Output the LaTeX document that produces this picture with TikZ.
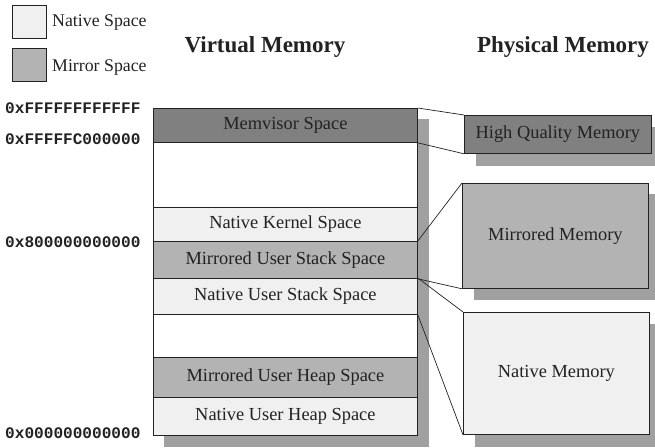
\documentclass[tikz,border=0pt]{standalone}
\usepackage{fontspec}
\setmainfont{Liberation Serif}
\setmonofont{Liberation Mono}
\usetikzlibrary{backgrounds,calc}
\definecolor{nativec}{HTML}{F0F0F0}
\definecolor{mirrorc}{HTML}{B3B3B3}
\definecolor{darkc}{HTML}{808080}
\definecolor{shadowc}{HTML}{A0A0A0}
\definecolor{linec}{HTML}{222222}
\definecolor{textc}{HTML}{222222}
\tikzset{
  box/.style={draw=linec, line width=0.8pt, rectangle, anchor=north west, inner sep=0pt,
    text=textc, font=\fontsize{18.4}{20}\selectfont},
  rowbox/.style={box, minimum width=264pt},
  native/.style={fill=nativec},
  mirror/.style={fill=mirrorc},
  darkbox/.style={fill=darkc},
  empty/.style={fill=white},
  addr/.style={anchor=west, inner sep=0pt, text=textc, font=\ttfamily\bfseries\fontsize{16.1}{17}\selectfont},
  title/.style={inner sep=0pt, text=textc, font=\bfseries\fontsize{23}{25}\selectfont},
  legtext/.style={anchor=west, inner sep=0pt, text=textc, font=\fontsize{17.8}{19}\selectfont},
  conn/.style={draw=linec, line width=0.7pt},
  shadow/.style={fill=shadowc}
}
\begin{document}
\begin{tikzpicture}[x=1pt,y=-1pt]
\useasboundingbox (0,0) rectangle (655,447);
% legend
\node[box, native, minimum width=34pt, minimum height=33pt] (legn) at (12,5) {};
\node[box, mirror, minimum width=34pt, minimum height=33pt] (legm) at (12,48) {};
\node[legtext] (legnt) at (52,23) {Native Space};
\node[legtext] (legmt) at (52,68) {Mirror Space};
% titles
\node[title] (tv) at (265,47) {Virtual Memory};
\node[title] (tp) at (563,47) {Physical Memory};
% virtual memory column
\node[rowbox, darkbox, minimum height=34pt] (memv) at (153,108) {Memvisor Space};
\node[rowbox, empty, minimum height=65pt] (gap1) at (153,142) {};
\node[rowbox, native, minimum height=34pt] (nkern) at (153,207) {Native Kernel Space};
\node[rowbox, mirror, minimum height=37pt] (mstack) at (153,241) {Mirrored User Stack Space};
\node[rowbox, native, minimum height=36pt] (nstack) at (153,278) {Native User Stack Space};
\node[rowbox, empty, minimum height=43pt] (gap2) at (153,314) {};
\node[rowbox, mirror, minimum height=40pt] (mheap) at (153,357) {Mirrored User Heap Space};
\node[rowbox, native, minimum height=38pt] (nheap) at (153,397) {Native User Heap Space};
% physical memory
\node[box, darkbox, minimum width=187pt, minimum height=38pt] (hq) at (464,115) {High Quality Memory};
\node[box, mirror, minimum width=186pt, minimum height=105pt] (mm) at (462,183) {Mirrored Memory};
\node[box, native, minimum width=186pt, minimum height=122pt] (nm) at (463,312) {Native Memory};
% shadows
\begin{pgfonlayer}{background}
\fill[shadow] ($(memv.north west)+(11,11)$) rectangle ($(nheap.south east)+(11,11)$);
\fill[shadow] ($(hq.north west)+(12,12)$) rectangle ($(hq.south east)+(12,12)$);
\fill[shadow] ($(mm.north west)+(12,11)$) rectangle ($(mm.south east)+(12,11)$);
\fill[shadow] ($(nm.north west)+(12,12)$) rectangle ($(nm.south east)+(12,12)$);
\end{pgfonlayer}
% addresses
\node[addr] (a1) at (5,108) {0xFFFFFFFFFFFF};
\node[addr] (a2) at (5,139) {0xFFFFFC000000};
\node[addr] (a3) at (5,242) {0x800000000000};
\node[addr] (a4) at (5,433) {0x000000000000};
% connectors
\draw[conn] (memv.north east) -- (hq.north west);
\draw[conn] (memv.south east) -- (hq.south west);
\draw[conn] (mstack.north east) -- (mm.north west);
\draw[conn] (mstack.south east) -- (mm.south west);
\draw[conn] (nstack.north east) -- (nm.north west);
\draw[conn] (nstack.south east) -- (nm.south west);
\end{tikzpicture}
\end{document}
